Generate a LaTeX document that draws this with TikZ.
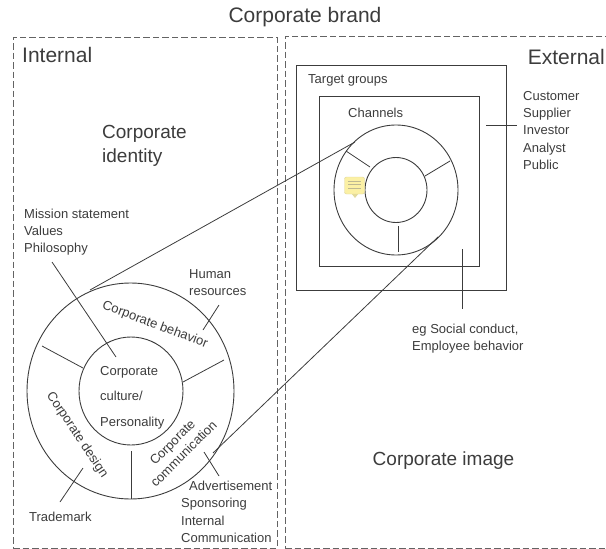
\documentclass[tikz,border=0pt]{standalone}
\usepackage{fontspec}
\setmainfont{Liberation Sans}
\usetikzlibrary{positioning,shapes}
\definecolor{inkgrey}{HTML}{3C3C3C}
\definecolor{notefill}{HTML}{FBF0A4}
\tikzset{
	ring/.style={ellipse,draw=inkgrey,line width=0.9pt,inner sep=0pt},
	frame/.style={draw=inkgrey!80,dash pattern=on 6.5pt off 3pt,line width=0.8pt,minimum width=#1,inner sep=0pt},
	square/.style={rectangle,draw=inkgrey,inner sep=0pt},
	big/.style={text=inkgrey,font=\fontsize{21}{25}\selectfont,inner sep=0pt},
	small/.style={text=inkgrey,font=\fontsize{13}{17.3}\selectfont,inner sep=0pt,align=left},
	arc/.style={small,align=center}
}
\begin{document}
\begin{tikzpicture}[x=1pt,y=-1pt,every edge/.style={draw=inkgrey,line width=0.8pt}]
\useasboundingbox (0,0) rectangle (606,549);
% boxes
\node [frame=264pt,minimum height=511pt] (internal) at (145,292.5) {};
\node [frame=330pt,minimum height=512pt] (external) at (450,292) {};
\node [square,line width=0.9pt,minimum width=210pt,minimum height=225pt] (target) at (401,177.5) {};
\node [square,line width=1pt,minimum width=160pt,minimum height=170pt] (channel) at (399,181) {};
% rings
\node [ring,minimum width=207pt,minimum height=216pt] (ring) at (130.5,391) {};
\node [ring,minimum width=104pt,minimum height=108pt] (core) at (131,391) {};
\node [ring,minimum width=124pt,minimum height=130pt] (ringb) at (396,190) {};
\node [ring,minimum width=62pt,minimum height=65pt] (coreb) at (396,190) {};
% note
\fill [notefill!80!gray] (351,193) -- (355,198) -- (359,193) -- cycle;
\node [rectangle,rounded corners=2pt,fill=notefill,draw=notefill!75!gray,minimum width=20pt,minimum height=17pt,inner sep=0pt] (note) at (354.5,185.5) {};
\draw [draw=notefill!50!gray,line width=0.6pt] (348,181) -- (361,181) (348,184.5) -- (361,184.5) (348,188) -- (361,188);
% titles
\node [big] (brand) at (305,17) {Corporate brand};
\node [big,anchor=west] (inttitle) at (22,55) {Internal};
\node [big,anchor=east] (exttitle) at (605,57) {External};
\node [big,anchor=north west,align=left,font=\fontsize{19}{24.5}\selectfont] (identity) at (102,125) {Corporate\\identity};
\node [big,font=\fontsize{19}{22}\selectfont] (image) at (443.5,461) {Corporate image};
% labels
\node [small,anchor=north west] (mission) at (24,208.5) {Mission statement\\Values\\Philosophy};
\node [small,anchor=north west] (human) at (189,269) {Human\\resources};
\node [small,anchor=north west,font=\fontsize{13}{25.5}\selectfont] (culture) at (100,366) {Corporate\\culture/\\Personality};
\node [small,anchor=west] (trademark) at (29,517) {Trademark};
\node [small,anchor=north west] (advert) at (181,481) {\hspace*{8pt}Advertisement\\Sponsoring\\Internal\\Communication};
\node [small,anchor=west] (targets) at (308,80) {Target groups};
\node [small,anchor=west] (channels) at (348,113) {Channels};
\node [small,anchor=north west] (publics) at (523,91) {Customer\\Supplier\\Investor\\Analyst\\Public};
\node [small,anchor=north west] (conduct) at (412,324) {eg Social conduct,\\Employee behavior};
% ring labels
\node [arc,rotate=-20.5] (behavior) at (155,325) {Corporate behavior};
\node [arc,rotate=-56] (design) at (77,435) {Corporate design};
\node [arc,rotate=45,font=\fontsize{13}{16}\selectfont] (comm) at (178,448) {Corporate\\communication};
% line ends
\coordinate (a1) at (42,346); \coordinate (a2) at (83,368);
\coordinate (b1) at (183,382); \coordinate (b2) at (224,360);
\coordinate (c1) at (131,451); \coordinate (c2) at (131,499);
\coordinate (d1) at (346,151); \coordinate (d2) at (370,167);
\coordinate (e1) at (425,176); \coordinate (e2) at (450,161);
\coordinate (f1) at (398,226); \coordinate (f2) at (398,252);
\coordinate (m1) at (52,262); \coordinate (m2) at (116,357);
\coordinate (h1) at (219,305); \coordinate (h2) at (203,330);
\coordinate (t1) at (83,468); \coordinate (t2) at (60,502);
\coordinate (v1) at (204,452); \coordinate (v2) at (219,476);
\coordinate (u1) at (90,290); \coordinate (u2) at (355,142);
\coordinate (l1) at (213,453); \coordinate (l2) at (438,237);
\coordinate (p1) at (486,125); \coordinate (p2) at (517,125);
\coordinate (g1) at (462,249); \coordinate (g2) at (462,309);
\path (a1) edge (a2)
(b1) edge (b2)
(c1) edge (c2)
(d1) edge (d2)
(e1) edge (e2)
(f1) edge (f2)
(m1) edge (m2)
(h1) edge (h2)
(t1) edge (t2)
(v1) edge (v2)
(u1) edge (u2)
(l1) edge (l2)
(p1) edge (p2)
(g1) edge (g2);
\end{tikzpicture}
\end{document}
